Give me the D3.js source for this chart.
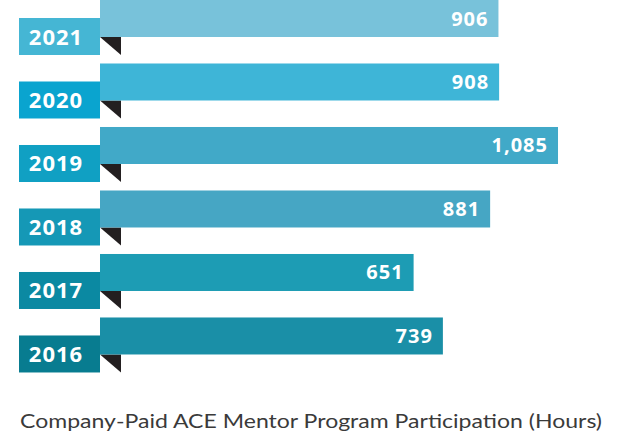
<!DOCTYPE html>
<html><head><meta charset="utf-8">
<script src="https://cdn.jsdelivr.net/npm/d3@7"></script>
<style>body{margin:0;background:#fff}svg{display:block}</style>
</head><body>
<svg id="c" width="620" height="436"></svg>
<script>
const years = ["2021","2020","2019","2018","2017","2016"];
const hours = [906, 908, 1085, 881, 651, 739];
const barColors = ["#78c2da","#3eb5d7","#41a9c8","#46a6c4","#1d9cb4","#1a8fa7"];
const labelColors = ["#45b6d4","#0aa4cf","#10a0c3","#1598b6","#0b89a2","#087c90"];
const caption = "Company-Paid ACE Mentor Program Participation (Hours)";

const svg = d3.select("#c");
const barX0 = 100, boxX0 = 19, barH = 37, drop = 18;
const y = d3.scaleBand().domain(years).range([0, 354.5]).paddingInner(0.417).paddingOuter(0);
const x = d3.scaleLinear().domain([0, 1100]).range([197, 563]);
const fmt = d3.format(",");

const g = svg.selectAll("g.row").data(years).join("g").attr("class","row")
  .attr("transform", d => `translate(0,${y(d)})`);

g.append("rect").attr("x", boxX0).attr("y", drop).attr("width", barX0 - boxX0).attr("height", barH)
  .attr("fill", (d,i) => labelColors[i]);
g.append("path").attr("d", `M${barX0},${barH} L${barX0+21},${barH} L${barX0+21},${barH+drop} Z`)
  .attr("fill", "#231f20");
g.append("rect").attr("x", barX0).attr("y", 0).attr("height", barH)
  .attr("width", (d,i) => x(hours[i]) - barX0)
  .attr("fill", (d,i) => barColors[i]);
g.append("text").attr("x", 56).attr("y", drop + barH/2 + 8)
  .attr("text-anchor","middle").attr("fill","#fff")
  .attr("font-family","'Open Sans', sans-serif").attr("font-weight", 700).attr("font-size", 22)
  .attr("letter-spacing", 1)
  .text(d => d);
g.append("text").attr("x", (d,i) => x(hours[i]) - 10).attr("y", barH/2 + 7)
  .attr("text-anchor","end").attr("fill","#fff")
  .attr("font-family","'Open Sans', sans-serif").attr("font-weight", 700).attr("font-size", 20)
  .attr("letter-spacing", 1)
  .text((d,i) => fmt(hours[i]));

svg.append("text").attr("x", 20).attr("y", 428)
  .attr("fill","#3a3a3a").attr("font-family","Lato, 'Open Sans', sans-serif").attr("font-size", 19.5)
  .attr("textLength", 582).attr("lengthAdjust","spacingAndGlyphs")
  .text(caption);
</script>
</body></html>
